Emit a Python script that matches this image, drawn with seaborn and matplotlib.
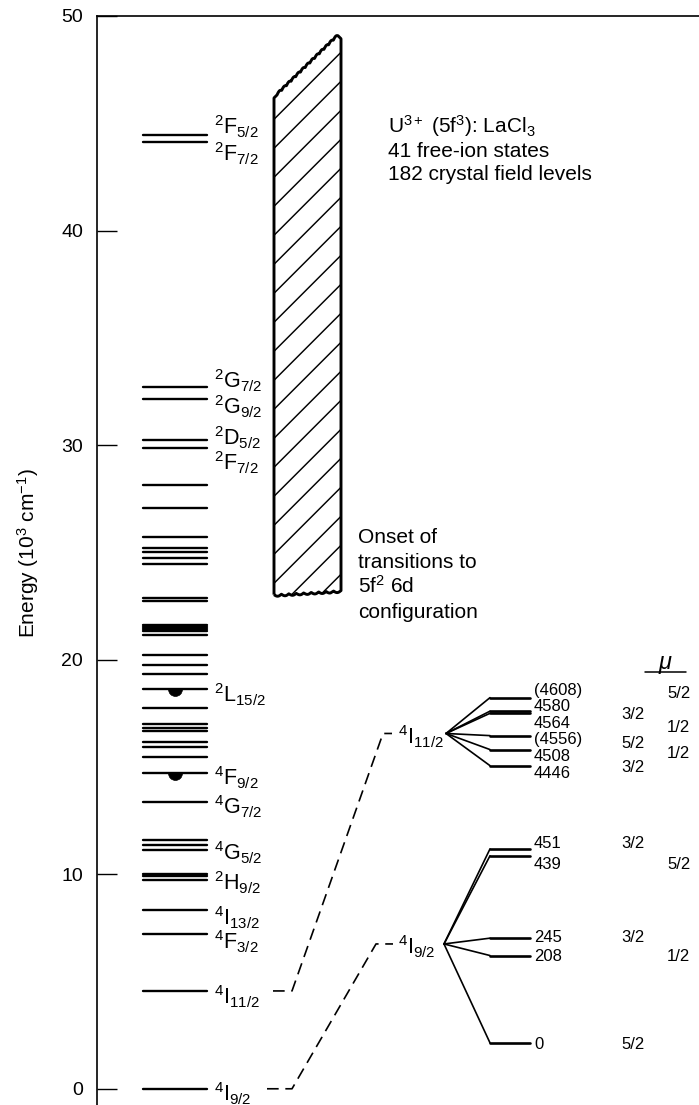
import numpy as np
import pandas as pd
import matplotlib
matplotlib.use('Agg')
import matplotlib.pyplot as plt
import seaborn as sns
from matplotlib.path import Path
from matplotlib.patches import PathPatch

# ------------------------------------------------------------------ data
# free-ion / crystal-field levels in the left column (10^3 cm^-1)
free_ion_levels = [0.0, 4.56, 7.21, 8.33, 9.74, 9.90, 10.01, 11.14, 11.38, 11.61,
                   13.37, 14.72, 15.47, 15.92, 16.14, 16.66, 16.83, 17.02, 17.74,
                   18.64, 19.31, 19.74, 20.24, 21.15, 21.32, 21.43, 21.53, 21.63,
                   22.73, 22.89, 24.47, 24.72, 25.03, 25.19, 25.73, 27.09, 28.16,
                   29.87, 30.24, 32.17, 32.73, 44.15, 44.46]
blob_levels = [18.64, 14.72]

term_names = [r'$^{4}$I$_{9/2}$', r'$^{4}$I$_{11/2}$', r'$^{4}$F$_{3/2}$', r'$^{4}$I$_{13/2}$',
              r'$^{2}$H$_{9/2}$', r'$^{4}$G$_{5/2}$', r'$^{4}$G$_{7/2}$', r'$^{4}$F$_{9/2}$',
              r'$^{2}$L$_{15/2}$', r'$^{2}$F$_{7/2}$', r'$^{2}$D$_{5/2}$', r'$^{2}$G$_{9/2}$',
              r'$^{2}$G$_{7/2}$', r'$^{2}$F$_{7/2}$', r'$^{2}$F$_{5/2}$']
term_energy = [0.0, 4.56, 7.21, 8.33, 9.90, 11.38, 13.37, 14.72, 18.64,
               29.87, 30.24, 32.17, 32.73, 44.15, 44.46]

# 5f2 6d onset band (10^3 cm^-1)
band_low_left, band_low_right = 23.03, 23.22
band_high_left, band_high_right = 46.32, 49.08

# crystal-field splitting of 4I11/2 (top to bottom): values, drawn height, mu
i11_values = ['(4608)', '4580', '4564', '(4556)', '4508', '4446']
i11_display = [18.23, 17.60, 17.50, 16.46, 15.81, 15.06]
i11_mu = ['5/2', '3/2', '1/2', '5/2', '1/2', '3/2']
i11_mu_col = ['R', 'M', 'R', 'M', 'R', 'M']
i11_vertex = 16.56

# crystal-field splitting of 4I9/2
i9_values = ['451', '439', '245', '208', '0']
i9_display = [11.18, 10.86, 7.02, 6.21, 2.14]
i9_mu = ['3/2', '5/2', '3/2', '1/2', '5/2']
i9_mu_col = ['M', 'R', 'M', 'R', 'M']
i9_vertex = 6.75

y_ticks = [0, 10, 20, 30, 40, 50]

# ------------------------------------------------------------------ style
sns.set_theme(style='white')
plt.rcParams['font.family'] = ['Liberation Sans', 'DejaVu Sans']
plt.rcParams['mathtext.default'] = 'regular'
plt.rcParams['mathtext.fontset'] = 'custom'
plt.rcParams['mathtext.rm'] = 'Liberation Sans'
plt.rcParams['mathtext.it'] = 'Liberation Sans:italic'

W, H, DPI = 699, 1105, 100
AX_L, AX_T = 97, 16
YMIN, YMAX = -0.756, 50.0
fig = plt.figure(figsize=(W / DPI, H / DPI), dpi=DPI)
ax = fig.add_axes([AX_L / W, 0, (W - AX_L) / W, (H - AX_T) / H])
PPU = (H - AX_T) / (YMAX - YMIN)       # pixels per 10^3 cm^-1


def e_px(p):
    """vertical pixel position (from top) -> energy axis value"""
    return YMAX - (p - AX_T) / PPU


def d_px(d):
    return d / PPU


K = 'black'

# ---------------------------------------------------------------- left column
LX0, LX1 = 143, 207
lev = pd.DataFrame({'id': np.repeat(np.arange(len(free_ion_levels)), 2),
                    'x': np.tile([LX0, LX1], len(free_ion_levels)),
                    'E': np.repeat(free_ion_levels, 2)})
sns.lineplot(data=lev, x='x', y='E', units='id', estimator=None, sort=False,
             color=K, lw=1.7, ax=ax, legend=False)
ax.plot([175] * len(blob_levels), blob_levels, ls='none',
        marker=Path.wedge(180, 360), ms=10, color=K, mec=K, mew=0.5)

label_dy = [5, 6, 8, 8, 6, 8, 5, 5, 6, 15, -2, 8, -6, 12, -8]
for name, e, dy in zip(term_names, term_energy, label_dy):
    ax.text(214, e - d_px(dy), name, fontsize=15.5, ha='left', va='center', color=K)

# ---------------------------------------------------------------- hatched band
BX0, BX1 = 274, 341
n_top, n_bot = 13, 9
amp = d_px(1.8)
t = np.linspace(0, 1, 200)
top_x = BX0 + 3 + t * (BX1 - 3 - BX0 - 3)
top_y = band_high_left + t * (band_high_right - band_high_left) + amp * np.abs(np.sin(np.pi * n_top * t))
bot_x = BX1 - t * (BX1 - BX0)
bot_y = band_low_right + t * (band_low_left - band_low_right) - amp * np.abs(np.sin(np.pi * n_bot * t))
verts = np.vstack([
    [[BX0, band_low_left], [BX0, band_high_left - d_px(3)]],
    np.column_stack([top_x, top_y]),
    [[BX1, band_high_right - d_px(3)], [BX1, band_low_right]],
    np.column_stack([bot_x, bot_y]),
])
band_path = Path(verts, closed=False)
band = PathPatch(band_path, facecolor='white', edgecolor='none', zorder=3)
ax.add_patch(band)
spacing = d_px(29)
first = e_px(583.3)
for k in np.arange(-3, 22):
    c = first + k * spacing
    xs = np.array([BX0 - 5, BX1 + 5])
    ys = c + (xs - BX0) / PPU
    ln, = ax.plot(xs, ys, color=K, lw=1.05, zorder=4)
    ln.set_clip_path(band)
band_outline = PathPatch(band_path, facecolor='none', edgecolor=K, lw=2.1, zorder=5,
                         joinstyle='round')
ax.add_patch(band_outline)

# ---------------------------------------------------------------- annotations
top_lines = [r'U$^{3+}$ (5f$^{3}$): LaCl$_{3}$', '41 free-ion states', '182 crystal field levels']
for i, s in enumerate(top_lines):
    ax.text(388, e_px(133 + i * 23.5), s, fontsize=15, ha='left', va='baseline', color=K)
onset_lines = ['Onset of', 'transitions to', r'5f$^{2}$ 6d', 'configuration']
for i, s in enumerate(onset_lines):
    ax.text(358, e_px(543 + i * 25), s, fontsize=15, ha='left', va='baseline', color=K)

# ---------------------------------------------------------------- dashed links
dash_kw = dict(color=K, lw=1.2, dashes=(7, 4))
ax.plot([273, 292, 383, 392], [term_energy[1], term_energy[1], i11_vertex, i11_vertex], **dash_kw)
ax.plot([267, 292, 376, 393], [term_energy[0], term_energy[0], i9_vertex, i9_vertex], **dash_kw)

ax.text(398, i11_vertex - d_px(3), term_names[1], fontsize=15.5, ha='left', va='center', color=K)
ax.text(398, i9_vertex - d_px(3), term_names[0], fontsize=15.5, ha='left', va='center', color=K)

# ---------------------------------------------------------------- fans
FX_BEND, FX_END = 490, 530


def fan(vx, vE, disp):
    n = len(disp)
    diag = pd.DataFrame({'id': np.repeat(np.arange(n), 2),
                         'x': np.tile([vx, FX_BEND], n),
                         'E': np.ravel([[vE, d] for d in disp])})
    hor = pd.DataFrame({'id': np.repeat(np.arange(n), 2),
                        'x': np.tile([FX_BEND, FX_END], n),
                        'E': np.repeat(disp, 2)})
    sns.lineplot(data=diag, x='x', y='E', units='id', estimator=None, sort=False,
                 color=K, lw=1.2, ax=ax, legend=False)
    sns.lineplot(data=hor, x='x', y='E', units='id', estimator=None, sort=False,
                 color=K, lw=1.9, ax=ax, legend=False)


fan(446, i11_vertex, i11_display)
fan(444, i9_vertex, i9_display)

NUM_X, MU_M, MU_R = 534, 621, 667
FS_NUM = 12
# 4I11/2 sublevel labels: evenly stacked
mu_y_upper = [694, 714, 728, 743, 754, 768]
for i, (v, m, col) in enumerate(zip(i11_values, i11_mu, i11_mu_col)):
    ax.text(NUM_X, e_px(690 + i * 16.65), v, fontsize=FS_NUM, ha='left', va='center', color=K)
    ax.text(MU_M if col == 'M' else MU_R, e_px(mu_y_upper[i]), m, fontsize=FS_NUM,
            ha='left', va='center', color=K)
# 4I9/2 sublevel labels
lab_dy = [-5, 9, -1, 1, 2]
for d, v, m, col, dy in zip(i9_display, i9_values, i9_mu, i9_mu_col, lab_dy):
    ax.text(NUM_X, d - d_px(dy), v, fontsize=FS_NUM, ha='left', va='center', color=K)
    ax.text(MU_M if col == 'M' else MU_R, d - d_px(dy), m, fontsize=FS_NUM,
            ha='left', va='center', color=K)

# mu header
ax.text(665, e_px(663), 'μ', fontsize=17, fontstyle='italic', ha='center', va='center', color=K)
ax.plot([645, 686], [e_px(672), e_px(672)], color=K, lw=1.1)

# ---------------------------------------------------------------- axes
ax.set_xlim(AX_L, W)
ax.set_ylim(YMIN, YMAX)
ax.set_yticks(y_ticks)
ax.set_yticklabels([str(v) for v in y_ticks])
ax.set_xticks([])
ax.tick_params(axis='y', direction='in', length=14.4, width=1.0, labelsize=14,
               pad=10, left=True, colors=K)
for side in ['right', 'bottom']:
    ax.spines[side].set_visible(False)
for side in ['left', 'top']:
    ax.spines[side].set_color(K)
    ax.spines[side].set_linewidth(1.2)
ax.set_xlabel('')
ax.set_ylabel(r'Energy (10$^{3}$ cm$^{-1}$)', fontsize=15, color=K)
ax.yaxis.set_label_coords((41 - AX_L) / (W - AX_L), (H - 553) / (H - AX_T))
ax.set_facecolor('white')
fig.patch.set_facecolor('white')

fig.savefig('out.png', dpi=DPI, facecolor='white')
